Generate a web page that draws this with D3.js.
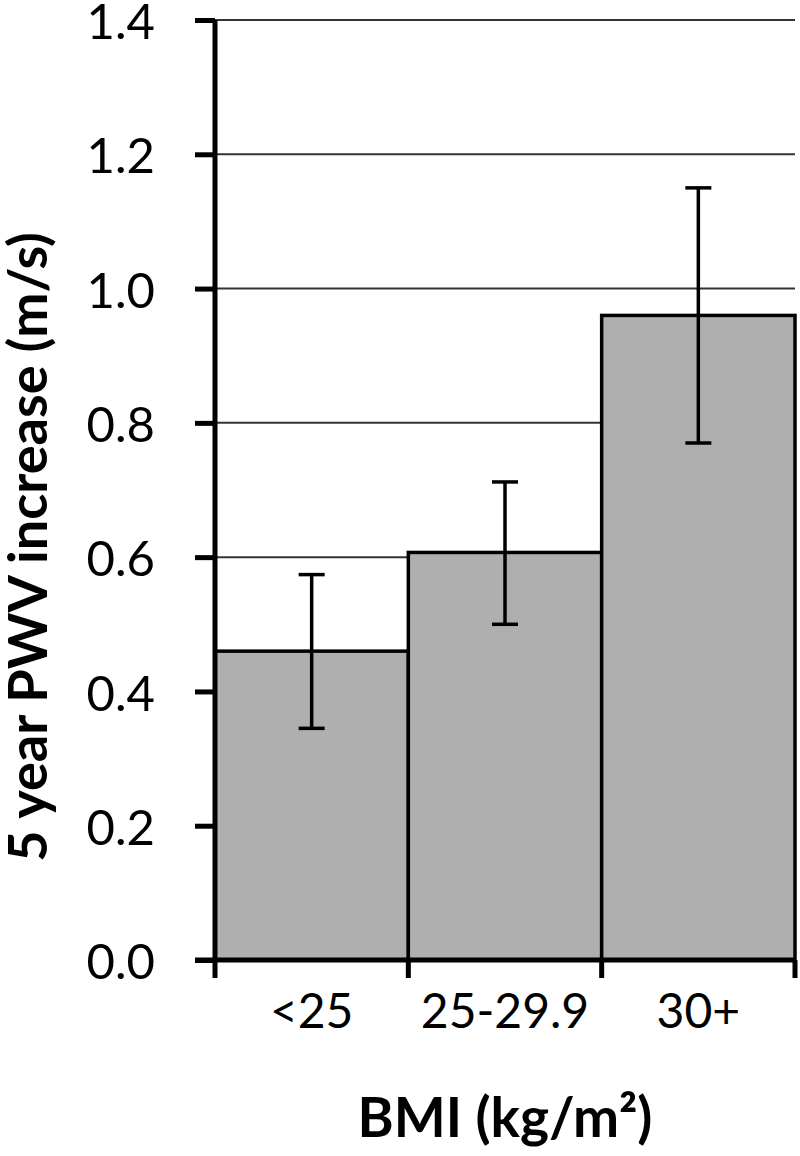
<!DOCTYPE html>
<html>
<head>
<meta charset="utf-8">
<script src="https://cdn.jsdelivr.net/npm/d3@7"></script>
<style>
  body { margin: 0; background: #fff; }
  text { font-family: Lato, "Open Sans", sans-serif; fill: #000; }
</style>
</head>
<body>
<script>
// data
let categories = ["<25", "25-29.9", "30+"];
let means = [0.46, 0.607, 0.96];
let errLow = [0.345, 0.50, 0.77];
let errHigh = [0.574, 0.712, 1.15];
let yTicks = [0, 0.2, 0.4, 0.6, 0.8, 1.0, 1.2, 1.4];

let margin = {top: 20, right: 5, bottom: 196, left: 215},
    width = 800 - margin.left - margin.right,
    height = 1156 - margin.top - margin.bottom;

let svg = d3.select("body").append("svg")
    .attr("width", 800)
    .attr("height", 1156);

let g = svg.append("g")
    .attr("transform", "translate(" + margin.left + "," + margin.top + ")");

let x = d3.scaleBand().domain(categories).range([0, width]).padding(0);
let y = d3.scaleLinear().domain([0, 1.4]).range([height, 0]);

// grid lines
g.selectAll(".grid")
    .data(yTicks.filter(d => d > 0))
    .enter().append("line")
    .attr("class", "grid")
    .attr("x1", 0)
    .attr("x2", width)
    .attr("y1", d => y(d))
    .attr("y2", d => y(d))
    .attr("stroke", "#333")
    .attr("stroke-width", 2);

// bars
g.selectAll(".bar")
    .data(categories)
    .enter().append("rect")
    .attr("class", "bar")
    .attr("x", d => x(d))
    .attr("y", (d, i) => y(means[i]))
    .attr("width", x.bandwidth())
    .attr("height", (d, i) => height - y(means[i]))
    .attr("fill", "#afafaf")
    .attr("stroke", "#000")
    .attr("stroke-width", 3.5);

// error bars
let capW = 13;
let eb = g.selectAll(".err")
    .data(categories)
    .enter().append("g")
    .attr("class", "err")
    .attr("transform", d => "translate(" + (x(d) + x.bandwidth() / 2) + ",0)");

eb.append("line")
    .attr("y1", (d, i) => y(errLow[i]))
    .attr("y2", (d, i) => y(errHigh[i]));
eb.append("line")
    .attr("x1", -capW).attr("x2", capW)
    .attr("y1", (d, i) => y(errLow[i]))
    .attr("y2", (d, i) => y(errLow[i]));
eb.append("line")
    .attr("x1", -capW).attr("x2", capW)
    .attr("y1", (d, i) => y(errHigh[i]))
    .attr("y2", (d, i) => y(errHigh[i]));
eb.selectAll("line")
    .attr("stroke", "#000")
    .attr("stroke-width", 3.5);

// y axis
let yAxis = g.append("g")
    .call(d3.axisLeft(y).tickValues(yTicks).tickFormat(d3.format(".1f")).tickSize(20).tickPadding(40));
yAxis.select(".domain").attr("stroke-width", 5).attr("d", "M0," + (height + 2) + "V0");
yAxis.selectAll(".tick line").attr("stroke-width", 5);
yAxis.selectAll(".tick text")
    .style("font-size", "49px")
    .attr("dy", "0.38em");

// x axis
let xAxis = g.append("g")
    .attr("transform", "translate(0," + height + ")");
xAxis.append("line")
    .attr("x1", -20).attr("x2", width)
    .attr("stroke", "#000").attr("stroke-width", 5);
let bounds = categories.map(d => x(d)).concat([width]);
xAxis.selectAll(".xtick")
    .data(bounds)
    .enter().append("line")
    .attr("class", "xtick")
    .attr("x1", d => d).attr("x2", d => d)
    .attr("y1", 0).attr("y2", 18)
    .attr("stroke", "#000").attr("stroke-width", 5);
xAxis.selectAll(".xlab")
    .data(categories)
    .enter().append("text")
    .attr("class", "xlab")
    .attr("x", d => x(d) + x.bandwidth() / 2)
    .attr("y", 68)
    .attr("text-anchor", "middle")
    .style("font-size", "48px")
    .text(d => d);

// axis titles
svg.append("text")
    .attr("x", 505)
    .attr("y", 1137)
    .attr("text-anchor", "middle")
    .style("font-size", "55px")
    .style("font-weight", "bold")
    .text("BMI (kg/m²)");

svg.append("text")
    .attr("transform", "translate(47,547) rotate(-90)")
    .attr("text-anchor", "middle")
    .style("font-size", "54px")
    .style("font-weight", "bold")
    .text("5 year PWV increase (m/s)");
</script>
</body>
</html>
